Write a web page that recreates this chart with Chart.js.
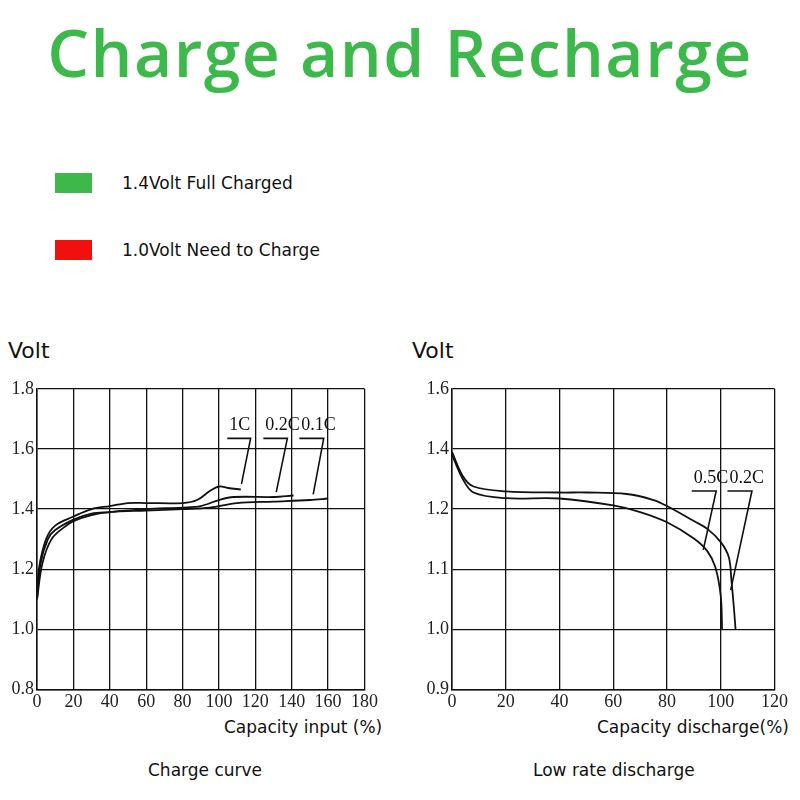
<!DOCTYPE html>
<html>
<head>
<meta charset="utf-8">
<script src="https://cdn.jsdelivr.net/npm/chart.js@4.4.0/dist/chart.umd.min.js"></script>
<style>
  body { margin:0; width:800px; height:800px; background:#fff; position:relative; overflow:hidden; font-family:"DejaVu Sans", sans-serif; }
  .abs { position:absolute; }
  #title { left:0; width:800px; top:6px; text-align:center; color:#3cb94a; font-family:"Open Sans", sans-serif; font-weight:600; font-size:66px; letter-spacing:1.5px; }
  .sq { width:37px; height:20px; }
  .leg { font-size:17px; color:#111; }
  .volt { font-size:22px; color:#111; }
  .xt { font-size:17px; color:#111; }
  .cap { font-size:17px; color:#111; }
</style>
</head>
<body>
<div id="title" class="abs">Charge and Recharge</div>
<div class="abs sq" style="left:55px;top:173px;background:#3cb94a"></div>
<div class="abs leg" style="left:122px;top:173px">1.4Volt Full Charged</div>
<div class="abs sq" style="left:55px;top:240px;background:#f01010"></div>
<div class="abs leg" style="left:122px;top:240px">1.0Volt Need to Charge</div>
<div class="abs volt" style="left:8px;top:338px">Volt</div>
<div class="abs volt" style="left:412px;top:338px">Volt</div>
<div class="abs xt" style="left:224px;top:717px">Capacity input (%)</div>
<div class="abs xt" style="left:597px;top:717px">Capacity discharge(%)</div>
<div class="abs cap" style="left:148px;top:760px">Charge curve</div>
<div class="abs cap" style="left:533px;top:760px">Low rate discharge</div>
<div class="abs" style="left:0;top:375px;width:380px;height:340px"><canvas id="c1"></canvas></div>
<div class="abs" style="left:410px;top:375px;width:380px;height:340px"><canvas id="c2"></canvas></div>
<script>
// charge curve (capacity %, volt)
const charge1C  = [[0,1.1],[1,1.2],[5,1.3],[10,1.345],[20,1.375],[30,1.4],[40,1.41],[50,1.42],[60,1.42],[80,1.42],[88,1.43],[95,1.46],[100,1.475],[105,1.47],[112,1.465]];
const charge02C = [[0,1.1],[2,1.22],[6,1.3],[10,1.33],[20,1.365],[30,1.385],[40,1.39],[60,1.4],[80,1.405],[90,1.41],[100,1.43],[108,1.44],[130,1.44],[141,1.445]];
const charge01C = [[0,1.1],[3,1.22],[8,1.3],[15,1.34],[20,1.36],[30,1.38],[40,1.39],[60,1.395],[80,1.4],[95,1.405],[110,1.42],[130,1.425],[150,1.43],[160,1.435]];
const chargeCallouts = [
  { text:"1C",   under:[104.6,117.4], at:1.635, tip:[112.4,1.484] },
  { text:"0.2C", under:[124.4,137.6], at:1.635, tip:[131.5,1.456] },
  { text:"0.1C", under:[144.2,157.6], at:1.635, tip:[151.8,1.449] }
];
// low rate discharge (capacity %, volt)
const dis02C = [[0,1.39],[4,1.31],[8,1.275],[20,1.259],[40,1.255],[50,1.255],[65,1.25],[75,1.23],[80,1.21],[90,1.18],[95,1.167],[100,1.145],[103,1.12],[104,1.08],[105,1.03],[105.5,1.0]];
const dis05C = [[0,1.38],[4,1.3],[8,1.255],[20,1.236],[40,1.235],[60,1.212],[70,1.195],[80,1.178],[90,1.151],[95,1.13],[98,1.103],[100,1.055],[100.5,1.0]];
const disCallouts = [
  { text:"0.5C", under:[89.2,98.3],  at:1.26, tip:[93.5,1.132] },
  { text:"0.2C", under:[102.5,111.6], at:1.26, tip:[103.7,1.065] }
];
const disTickLabels = ["0.9","1.0","1.1","1.2","1.4","1.6"];

// right y axis is piecewise: 0.9..1.2 step 0.1, 1.2..1.6 step 0.2, all equally spaced
const vpos = v => v >= 1.2 ? 3 + (v - 1.2) / 0.2 : (v - 0.9) / 0.1;
const pts = (arr, f) => arr.map(([x, y]) => ({ x, y: f ? f(y) : y }));

const lineDs = data => ({ data, borderColor:"#111", borderWidth:1.8, pointRadius:0, tension:0.35, fill:false });
const leaderDs = (c, f) => ({ data: pts([[c.under[0], c.at],[c.under[1], c.at],[c.tip[0], c.tip[1]]], f), borderColor:"#111", borderWidth:1.6, pointRadius:0, tension:0, fill:false });

const calloutText = (callouts, f) => ({
  id:"callouts",
  afterDatasetsDraw(chart) {
    const { ctx, scales:{ x, y } } = chart;
    ctx.save();
    ctx.font = '18px "Liberation Serif", serif';
    ctx.fillStyle = "#111";
    ctx.textBaseline = "bottom";
    callouts.forEach(c => {
      const px = x.getPixelForValue(c.under[0]) + 2;
      const py = y.getPixelForValue(f ? f(c.at) : c.at) - 4;
      ctx.fillText(c.text, px, py);
    });
    ctx.restore();
  }
});

const tickFont = { family:'"Liberation Serif", serif', size:18 };
const baseOpts = (xmax, ymin, ymax, ystep, ycb, ywidth, padRight) => ({
  responsive:true, maintainAspectRatio:false, animation:false,
  layout:{ padding:{ top:12, right:padRight } },
  plugins:{ legend:{ display:false }, tooltip:{ enabled:false } },
  scales:{
    x:{ type:"linear", min:0, max:xmax, ticks:{ stepSize:20, color:"#222", font:tickFont, padding:2 },
        grid:{ color:"#111", lineWidth:1.3, drawTicks:false }, border:{ color:"#111", width:1.5 } },
    y:{ type:"linear", min:ymin, max:ymax, ticks:{ stepSize:ystep, color:"#222", font:tickFont, callback:ycb, padding:3 },
        grid:{ color:"#111", lineWidth:1.3, drawTicks:false }, border:{ color:"#111", width:1.5 },
        afterFit(s){ s.width = ywidth; } }
  }
});

new Chart(document.getElementById("c1"), {
  type:"line",
  data:{ datasets:[lineDs(pts(charge1C)), lineDs(pts(charge02C)), lineDs(pts(charge01C)), ...chargeCallouts.map(c => leaderDs(c))] },
  options:baseOpts(180, 0.8, 1.8, 0.2, v => v.toFixed(1), 37, 0),
  plugins:[calloutText(chargeCallouts)]
});

new Chart(document.getElementById("c2"), {
  type:"line",
  data:{ datasets:[lineDs(pts(dis02C, vpos)), lineDs(pts(dis05C, vpos)), ...disCallouts.map(c => leaderDs(c, vpos))] },
  options:baseOpts(120, 0, 5, 1, v => disTickLabels[v], 42, 13),
  plugins:[calloutText(disCallouts, vpos)]
});
</script>
</body>
</html>
